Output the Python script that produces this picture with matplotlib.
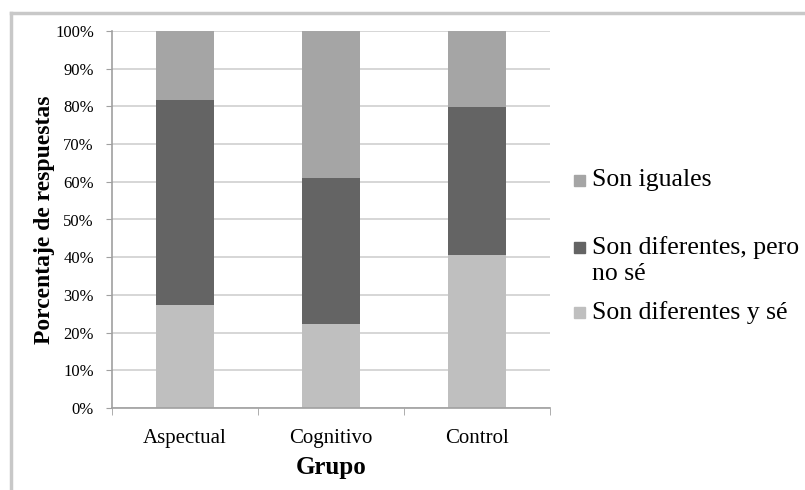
import numpy as np
import matplotlib
matplotlib.use("Agg")
import matplotlib.pyplot as plt
from matplotlib.lines import Line2D
from matplotlib.patches import Rectangle
from matplotlib.ticker import FixedLocator, PercentFormatter

# data (percent of answers per group)
grupos = ['Aspectual', 'Cognitivo', 'Control']
series = ['Son diferentes y sé', 'Son diferentes, pero\nno sé', 'Son iguales']
sabe = [27.2, 22.3, 40.6]
no_sabe = [54.4, 38.8, 39.3]
iguales = [18.4, 38.9, 20.1]
colores = ['#bfbfbf', '#646464', '#a5a5a5']

plt.rcParams['font.family'] = ['Liberation Serif', 'DejaVu Serif']

W, H = 805, 490
fig = plt.figure(figsize=(W / 100, H / 100), dpi=100)
ax = fig.add_axes([112 / W, 1 - 408 / H, 438 / W, 377 / H])

x = np.arange(len(grupos))
bottom = np.zeros(len(grupos))
for vals, col in zip([sabe, no_sabe, iguales], colores):
    ax.bar(x, vals, width=0.4, bottom=bottom, color=col, edgecolor='none', zorder=2)
    bottom += np.array(vals)

ax.set_xlim(-0.5, 2.5)
ax.set_ylim(0, 100)
ax.set_yticks(np.arange(0, 101, 10))
ax.yaxis.set_major_formatter(PercentFormatter(decimals=0))
ax.grid(axis='y', color='#d0d0d0', linewidth=1.2, zorder=0)
ax.set_axisbelow(True)

ax.set_xticks(x)
ax.set_xticklabels(grupos, fontsize=15)
ax.xaxis.set_minor_locator(FixedLocator([-0.5, 0.5, 1.5, 2.5]))
ax.tick_params(axis='x', which='major', length=0, pad=15)
ax.tick_params(axis='x', which='minor', length=5, color='#a0a0a0', direction='out')
ax.tick_params(axis='y', length=4, color='#a0a0a0', labelsize=12, pad=9)

for side in ['top', 'right']:
    ax.spines[side].set_visible(False)
for side in ['left', 'bottom']:
    ax.spines[side].set_color('#a0a0a0')
    ax.spines[side].set_linewidth(1.2)

ax.set_xlabel('Grupo', fontsize=18, fontweight='bold', labelpad=6)
ax.set_ylabel('Porcentaje de respuestas', fontsize=17, fontweight='bold', labelpad=0)

# legend drawn like the spreadsheet one (top entry first)
leg_y = [181, 248, 313]
for lab, col, yy in zip(series[::-1], colores[::-1], leg_y):
    fig.patches.append(Rectangle((574 / W, 1 - (yy + 5) / H), 11 / W, 11 / H,
                                 transform=fig.transFigure, color=col))
    fig.text(592 / W, 1 - (yy - 12) / H, lab, fontsize=18.5, va='top', ha='left',
             linespacing=1.22)

# outer chart frame
fig.add_artist(Line2D([10.5 / W, 10.5 / W], [0, 1 - 13.5 / H], transform=fig.transFigure,
                      color='#c8c8c8', linewidth=2.5))
fig.add_artist(Line2D([10.5 / W, 1], [1 - 13.5 / H, 1 - 13.5 / H], transform=fig.transFigure,
                      color='#c8c8c8', linewidth=2.5))

fig.savefig('out.png', dpi=100)
